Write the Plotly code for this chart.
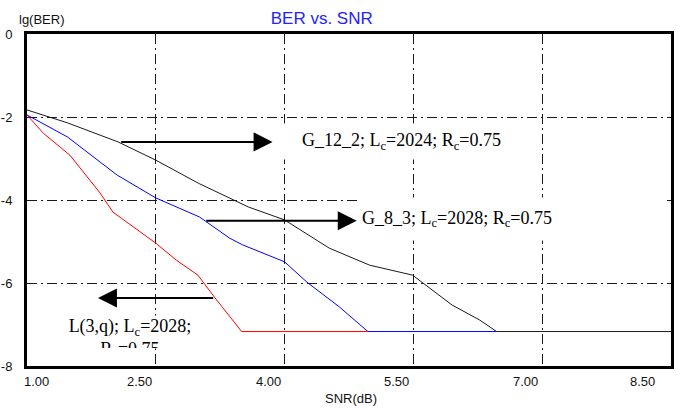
import plotly.graph_objects as go

# ---- data ----
snr_g12 = [1.0, 1.47, 2.06, 2.5, 3.0, 3.36, 3.58, 4.0, 4.52, 4.99, 5.49, 5.95, 6.27, 6.47, 8.5]
ber_g12 = [-1.83, -2.14, -2.6, -3.04, -3.6, -3.95, -4.17, -4.48, -5.16, -5.57, -5.81, -6.53, -6.89, -7.17, -7.17]

snr_g8 = [1.0, 1.47, 2.05, 2.5, 3.01, 3.36, 3.51, 4.0, 4.26, 4.64, 4.97, 6.47]
ber_g8 = [-1.95, -2.48, -3.4, -3.95, -4.41, -4.92, -5.08, -5.49, -5.98, -6.58, -7.17, -7.17]

snr_l3 = [1.0, 1.19, 1.5, 1.85, 2.0, 2.5, 2.74, 2.99, 3.19, 3.36, 3.5, 4.97]
ber_l3 = [-1.95, -2.39, -2.92, -3.83, -4.29, -5.04, -5.45, -5.81, -6.36, -6.82, -7.17, -7.17]

x_ticks = [1.0, 2.5, 4.0, 5.5, 7.0, 8.5]
x_tick_labels = ["1.00", "2.50", "4.00", "5.50", "7.00", "8.50"]
y_ticks = [0, -2, -4, -6, -8]
y_tick_labels = ["0", "-2", "-4", "-6", "-8"]

title_text = "BER vs. SNR"
x_title = "SNR(dB)"
y_title = "lg(BER)"
label_g12 = "G_12_2; L<sub>c</sub>=2024; R<sub>c</sub>=0.75"
label_g8 = "G_8_3; L<sub>c</sub>=2028; R<sub>c</sub>=0.75"
label_l3 = "L(3,q); L<sub>c</sub>=2028;<br>R<sub>c</sub>=0.75"

# ---- figure ----
fig = go.Figure()
fig.add_trace(go.Scatter(x=snr_g12, y=ber_g12, mode="lines",
                         line=dict(color="#1a1a1a", width=1), showlegend=False))
fig.add_trace(go.Scatter(x=snr_g8, y=ber_g8, mode="lines",
                         line=dict(color="#0000ff", width=1), showlegend=False))
fig.add_trace(go.Scatter(x=snr_l3, y=ber_l3, mode="lines",
                         line=dict(color="#ff0000", width=1), showlegend=False))

sans = "Liberation Sans"
serif = "Liberation Serif"
grid_dash = "10px,4px,2px,4px"

fig.update_layout(
    width=686, height=411,
    margin=dict(l=27, r=15, t=34, b=45),
    paper_bgcolor="white", plot_bgcolor="white",
    title=dict(text=title_text, x=0.469, xanchor="center", xref="container",
               y=0.956, yanchor="middle", yref="container",
               font=dict(family=sans, size=17, color="#2323ff")),
    showlegend=False,
)
fig.update_xaxes(range=[1, 8.5], tickvals=x_ticks, showticklabels=False,
                 showgrid=True, gridcolor="#1a1a1a", gridwidth=1, griddash=grid_dash,
                 showline=True, linecolor="black", linewidth=3, mirror=True,
                 zeroline=False, ticks="", automargin=False)
fig.update_yaxes(range=[-8, 0], tickvals=y_ticks, ticktext=y_tick_labels,
                 tickfont=dict(family=sans, size=13, color="#111"),
                 ticklabelstandoff=9,
                 showgrid=True, gridcolor="#1a1a1a", gridwidth=1, griddash=grid_dash,
                 showline=True, linecolor="black", linewidth=3, mirror=True,
                 zeroline=False, ticks="", automargin=False)

ann = []
# x tick labels (right-aligned against their grid line, as in the reference)
for i, (v, t) in enumerate(zip(x_ticks, x_tick_labels)):
    if i == 0:
        anchor, shift = "left", -5
    elif i == len(x_ticks) - 1:
        anchor, shift = "right", -14
    else:
        anchor, shift = "right", -2
    ann.append(dict(x=v, xref="x", y=0, yref="paper", yanchor="middle", yshift=-15,
                    xanchor=anchor, xshift=shift, text=t, showarrow=False,
                    font=dict(family=sans, size=13, color="#111")))
# axis titles
ann.append(dict(x=0.5, xref="paper", xshift=2, y=0, yref="paper", yshift=-32,
                yanchor="middle", xanchor="center", text=x_title, showarrow=False,
                font=dict(family=sans, size=13, color="#111")))
ann.append(dict(x=0, xref="paper", xshift=-10, y=1, yref="paper", yshift=15,
                yanchor="middle", xanchor="left", text=y_title, showarrow=False,
                font=dict(family=sans, size=13, color="#111")))

# text boxes
tfont = dict(family=serif, size=18, color="black")
ann.append(dict(x=5.36, xref="x", y=-2.6, yref="y", xanchor="center", yanchor="middle",
                text=label_g12, showarrow=False, width=255, height=35, align="center",
                bgcolor="white", borderpad=0, font=tfont))
ann.append(dict(x=4.84, xref="x", y=-4.46, yref="y", xanchor="left", yanchor="middle",
                text=label_g8, showarrow=False, width=300, height=34, align="left",
                bgcolor="white", borderpad=4, font=tfont))
ann.append(dict(x=2.198, xref="x", y=-6.77, yref="y", xanchor="center", yanchor="top",
                text=label_l3, showarrow=False, width=194, height=32, align="center",
                valign="top", bgcolor="white", borderpad=0, font=tfont))

# arrows
arrows = [((3.86, -2.6), (2.08, -2.6)),
          ((4.84, -4.5), (3.07, -4.5)),
          ((1.826, -6.36), (3.186, -6.36))]
for (hx, hy), (tx, ty) in arrows:
    ann.append(dict(x=hx, y=hy, xref="x", yref="y", ax=tx, ay=ty, axref="x", ayref="y",
                    text="", showarrow=True, arrowhead=2, arrowsize=1.9, arrowwidth=2,
                    arrowcolor="black", standoff=0, startstandoff=0))

fig.update_layout(annotations=ann)
fig.write_html("out.html")
